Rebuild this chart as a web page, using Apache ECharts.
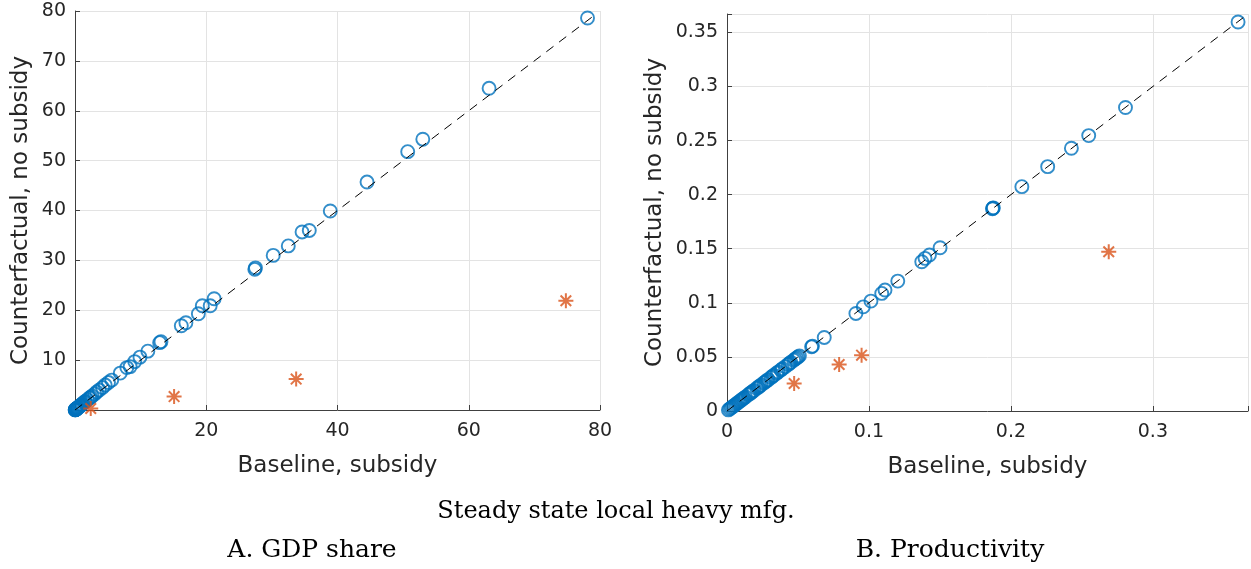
<!DOCTYPE html>
<html>
<head>
<meta charset="utf-8">
<script src="https://cdn.jsdelivr.net/npm/echarts@6/dist/echarts.min.js"></script>
<style>html,body{margin:0;padding:0;background:#fff;}#c{width:1251px;height:569px;}</style>
</head>
<body>
<div id="c"></div>
<script>
// Panel A: GDP share (baseline, counterfactual)
const gdpBlueX = [0.02,0.04,0.06,0.08,0.1,0.13,0.15,0.18,0.2,0.25,0.3,0.35,0.4,0.5,0.6,0.7,0.8,0.9,1.0,1.1,1.3,1.5,1.6,1.9,2.2,2.4,2.6,3.0,3.3,3.7,4.2,4.6,5.1,5.6,6.9,7.9,8.4,9.1,9.9,11.1,12.9,13.1,16.2,16.9,18.8,19.4,20.6,21.2,27.4,27.5,30.2,32.5,34.6,35.7,38.9,44.5,50.7,53.0,63.1,78.1];
const gdpBlueY = [0.02,0.05,0.06,0.09,0.12,0.14,0.16,0.2,0.22,0.27,0.33,0.37,0.42,0.55,0.63,0.75,0.86,0.95,1.05,1.2,1.45,1.6,1.75,2.05,2.4,2.55,2.8,3.2,3.6,4.0,4.5,5.0,5.5,6.0,7.4,8.5,8.7,9.7,10.6,11.8,13.5,13.7,16.9,17.5,19.3,20.9,20.9,22.3,28.2,28.5,31.0,32.9,35.7,36.0,39.9,45.7,51.8,54.3,64.5,78.6];
const gdpRedX = [2.4,15.1,33.7,74.8];
const gdpRedY = [0.3,2.7,6.2,21.9];
const gdpLine = [0,79];
// Panel B: Productivity
const prodBlueX = [0.001,0.002,0.003,0.004,0.005,0.006,0.007,0.008,0.009,0.010,0.011,0.012,0.013,0.015,0.016,0.017,0.018,0.019,0.021,0.022,0.023,0.024,0.026,0.027,0.028,0.029,0.031,0.032,0.033,0.035,0.036,0.038,0.039,0.041,0.043,0.044,0.045,0.047,0.048,0.049,0.050,0.051,0.0596,0.0602,0.0685,0.0908,0.0960,0.1014,0.1090,0.1113,0.1203,0.1372,0.1395,0.1426,0.1501,0.1870,0.1873,0.1876,0.2077,0.2259,0.2426,0.2548,0.2807,0.3600];
const prodBlueY = [0.001,0.002,0.003,0.004,0.005,0.006,0.007,0.008,0.009,0.010,0.011,0.012,0.013,0.015,0.016,0.017,0.018,0.019,0.021,0.022,0.023,0.024,0.026,0.027,0.028,0.029,0.031,0.032,0.033,0.035,0.036,0.038,0.039,0.041,0.043,0.044,0.045,0.047,0.048,0.049,0.050,0.051,0.0593,0.0600,0.0680,0.0902,0.0963,0.1016,0.1087,0.1118,0.1201,0.1380,0.1411,0.1442,0.1509,0.1870,0.1874,0.1878,0.2074,0.2259,0.2429,0.2546,0.2806,0.3596];
const prodRedX = [0.0473,0.0790,0.0948,0.2689];
const prodRedY = [0.0254,0.0430,0.0516,0.1472];
const prodLine = [0,0.367];

const xTitle = 'Baseline, subsidy';
const yTitle = 'Counterfactual, no subsidy';
const caption = 'Steady state local heavy mfg.';
const panelA = 'A. GDP share';
const panelB = 'B. Productivity';

const zip = (a,b) => a.map((v,i)=>[v,b[i]]);
const BLUE = '#0072BD', RED = '#D95319', AX = '#262626', GRID = '#e3e3e3';
const FONT = 'DejaVu Sans';
const SERIF = 'DejaVu Serif';
const star = 'path://M0 -10L0 10M-10 0L10 0M-7.07 -7.07L7.07 7.07M-7.07 7.07L7.07 -7.07';

function axis(gi, min, max, interval, hideZero, isY, nameGap) {
  return {
    gridIndex: gi, type: 'value', min: min, max: max, interval: interval,
    name: isY ? yTitle : xTitle, nameLocation: 'middle', nameGap: nameGap,
    nameTextStyle: {fontFamily: FONT, fontSize: 23, color: AX},
    axisLine: {show: true, onZero: false, lineStyle: {color: '#404040', width: 1}},
    axisTick: {show: true, inside: true, length: 5, lineStyle: {color: '#404040'}},
    axisLabel: {fontFamily: FONT, fontSize: 19, color: AX, margin: isY ? 9 : 12, showMaxLabel: true,
      formatter: v => (hideZero && Math.abs(v) < 1e-9) ? '' : (Math.abs(v - max) < 1e-9 && max % interval !== 0 ? '' : String(+v.toFixed(4)))},
    splitLine: {show: true, lineStyle: {color: GRID, width: 1}}
  };
}

const option = {
  animation: false,
  backgroundColor: '#fff',
  grid: [
    {left: 75, top: 11, width: 525, height: 399},
    {left: 727, top: 14, width: 521, height: 397}
  ],
  xAxis: [axis(0, 0, 80, 20, true, false, 45), axis(1, 0, 0.367, 0.1, false, false, 45)],
  yAxis: [axis(0, 0, 80, 10, true, true, 42), axis(1, 0, 0.367, 0.05, false, true, 60)],
  series: [
    {type: 'scatter', xAxisIndex: 0, yAxisIndex: 0, data: zip(gdpBlueX, gdpBlueY), symbol: 'circle', symbolSize: 13, clip: false,
      itemStyle: {color: 'rgba(0,0,0,0)', borderColor: BLUE, borderWidth: 1.9}, z: 3},
    {type: 'scatter', xAxisIndex: 0, yAxisIndex: 0, data: zip(gdpRedX, gdpRedY), symbol: star, symbolSize: 15, clip: false,
      itemStyle: {color: 'rgba(0,0,0,0)', borderColor: RED, borderWidth: 2}, z: 3},
    {type: 'line', xAxisIndex: 0, yAxisIndex: 0, data: zip(gdpLine, gdpLine), symbol: 'none',
      lineStyle: {color: '#000', width: 1, type: [9, 7]}, z: 4},
    {type: 'scatter', xAxisIndex: 1, yAxisIndex: 1, data: zip(prodBlueX, prodBlueY), symbol: 'circle', symbolSize: 13, clip: false,
      itemStyle: {color: 'rgba(0,0,0,0)', borderColor: BLUE, borderWidth: 1.9}, z: 3},
    {type: 'scatter', xAxisIndex: 1, yAxisIndex: 1, data: zip(prodRedX, prodRedY), symbol: star, symbolSize: 15, clip: false,
      itemStyle: {color: 'rgba(0,0,0,0)', borderColor: RED, borderWidth: 2}, z: 3},
    {type: 'line', xAxisIndex: 1, yAxisIndex: 1, data: zip(prodLine, prodLine), symbol: 'none',
      lineStyle: {color: '#000', width: 1, type: [9, 7]}, z: 4}
  ],
  graphic: [
    {type: 'text', x: 616, y: 500, style: {text: caption, font: '24px "' + SERIF + '"', fill: '#000', textAlign: 'center', textVerticalAlign: 'top'}},
    {type: 'text', x: 312, y: 538, style: {text: panelA, font: '25px "' + SERIF + '"', fill: '#000', textAlign: 'center', textVerticalAlign: 'top'}},
    {type: 'text', x: 950, y: 538, style: {text: panelB, font: '25px "' + SERIF + '"', fill: '#000', textAlign: 'center', textVerticalAlign: 'top'}}
  ]
};
const chart = echarts.init(document.getElementById('c'), null, {renderer: 'canvas'});
chart.setOption(option);
</script>
</body>
</html>
